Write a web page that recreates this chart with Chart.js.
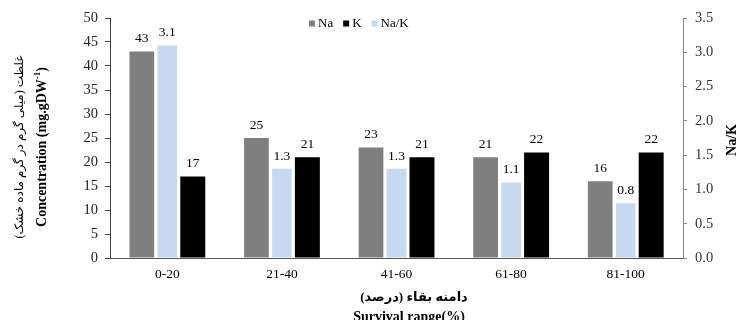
<!DOCTYPE html>
<html>
<head>
<meta charset="utf-8">
<script src="https://cdn.jsdelivr.net/npm/chart.js@4.4.1/dist/chart.umd.min.js"></script>
<style>
  html, body { margin: 0; padding: 0; background: #fff; }
  #wrap { width: 737px; height: 320px; }
</style>
</head>
<body>
<div id="wrap"><canvas id="c" width="737" height="320"></canvas></div>
<script>
// Survival range groups and measured concentrations
const categories = ['0-20', '21-40', '41-60', '61-80', '81-100'];
const naValues = [43, 25, 23, 21, 16];        // Na, mg.gDW-1
const kValues = [17, 21, 21, 22, 22];         // K, mg.gDW-1
const ratioValues = [3.1, 1.3, 1.3, 1.1, 0.8]; // Na/K ratio

// Axis ranges
const concMax = 50, concStep = 5;
const ratioMax = 3.5, ratioStep = 0.5;

// Legend order (differs from bar order inside each group)
const legendOrder = ['Na', 'K', 'Na/K'];

const SERIF = '"Liberation Serif", "Times New Roman", serif';
const PERSIAN = '"Liberation Serif", "DejaVu Sans", serif';

Chart.defaults.font.family = SERIF;
Chart.defaults.color = '#222';

const overlay = {
  id: 'overlay',
  afterDatasetsDraw(chart) {
    const ctx = chart.ctx;
    ctx.save();
    ctx.font = '13.5px ' + SERIF;
    ctx.fillStyle = '#000';
    ctx.textAlign = 'center';
    ctx.textBaseline = 'bottom';
    chart.data.datasets.forEach((ds, i) => {
      const meta = chart.getDatasetMeta(i);
      meta.data.forEach((bar, j) => {
        const v = ds.data[j];
        const txt = ds.decimals ? v.toFixed(ds.decimals) : String(v);
        ctx.fillText(txt, bar.x, bar.y - 6);
      });
    });
    ctx.restore();
  },
  afterDraw(chart) {
    const ctx = chart.ctx;
    ctx.save();

    // legend inside the top of the plot
    ctx.font = '13px ' + SERIF;
    ctx.textBaseline = 'middle';
    ctx.textAlign = 'left';
    let x = 309;
    const ly = 23.5;
    legendOrder.forEach(name => {
      const ds = chart.data.datasets.find(d => d.label === name);
      ctx.fillStyle = ds.backgroundColor;
      ctx.fillRect(x, ly - 3, 6, 6);
      x += 9;
      ctx.fillStyle = '#000';
      ctx.fillText(name, x, ly);
      x += ctx.measureText(name).width + 10;
    });

    // left axis titles (two lines, rotated)
    const yc = 147;
    ctx.save();
    ctx.translate(20, yc);
    ctx.rotate(-Math.PI / 2);
    ctx.direction = 'rtl';
    ctx.textAlign = 'center';
    ctx.textBaseline = 'middle';
    ctx.font = '12px ' + PERSIAN;
    ctx.fillStyle = '#000';
    ctx.fillText('غلظت (میلی گرم در گرم ماده خشک)', 0, 0);
    ctx.restore();

    ctx.save();
    ctx.translate(42, yc);
    ctx.rotate(-Math.PI / 2);
    ctx.fillStyle = '#000';
    ctx.textBaseline = 'middle';
    ctx.textAlign = 'left';
    const big = 'bold 14px ' + SERIF, small = 'bold 9px ' + SERIF;
    const segs = [
      { t: 'Concentration (mg.gDW', f: big, dy: 0 },
      { t: '-1', f: small, dy: -4 },
      { t: ')', f: big, dy: 0 }
    ];
    let total = 0;
    segs.forEach(s => { ctx.font = s.f; s.w = ctx.measureText(s.t).width; total += s.w; });
    let sx = -total / 2;
    segs.forEach(s => { ctx.font = s.f; ctx.fillText(s.t, sx, s.dy); sx += s.w; });
    ctx.restore();

    // right axis title
    ctx.save();
    ctx.translate(732, 140);
    ctx.rotate(-Math.PI / 2);
    ctx.font = 'bold 14px ' + SERIF;
    ctx.fillStyle = '#000';
    ctx.textAlign = 'center';
    ctx.textBaseline = 'middle';
    ctx.fillText('Na/K', 0, 0);
    ctx.restore();

    // x axis titles
    ctx.fillStyle = '#000';
    ctx.textAlign = 'center';
    ctx.save();
    ctx.direction = 'rtl';
    ctx.font = 'bold 13px ' + PERSIAN;
    ctx.textBaseline = 'middle';
    ctx.fillText('دامنه بقاء (درصد)', 414, 298);
    ctx.restore();
    ctx.font = 'bold 14px ' + SERIF;
    ctx.textBaseline = 'alphabetic';
    ctx.fillText('Survival range(%)', 409, 321);

    ctx.restore();
  }
};

new Chart(document.getElementById('c'), {
  type: 'bar',
  data: {
    labels: categories,
    datasets: [
      { label: 'Na', data: naValues, backgroundColor: '#7f7f7f', yAxisID: 'y', barPercentage: 0.97 },
      { label: 'Na/K', data: ratioValues, backgroundColor: '#c6d9f1', yAxisID: 'y1', barPercentage: 0.77, decimals: 1 },
      { label: 'K', data: kValues, backgroundColor: '#000000', yAxisID: 'y', barPercentage: 0.98 }
    ]
  },
  options: {
    responsive: false,
    animation: false,
    datasets: { bar: { categoryPercentage: 0.667 } },
    layout: { padding: { top: 18, left: 0, right: 0, bottom: 0 } },
    plugins: { legend: { display: false }, tooltip: { enabled: false } },
    scales: {
      x: {
        grid: { display: false, drawTicks: false },
        border: { display: true, color: '#595959', width: 1 },
        ticks: { font: { size: 13.5 }, color: '#000', padding: 8 },
        afterFit: s => { s.height = 62; }
      },
      y: {
        position: 'left',
        min: 0, max: concMax,
        ticks: { stepSize: concStep, font: { size: 14.5 }, color: '#222', padding: 7 },
        grid: { drawOnChartArea: false, drawTicks: true, tickLength: 5, tickColor: '#404040' },
        border: { color: '#404040', width: 1 },
        afterFit: s => { s.width = 110; }
      },
      y1: {
        position: 'right',
        min: 0, max: ratioMax,
        ticks: { stepSize: ratioStep, font: { size: 14.5 }, color: '#333', padding: 8,
                 callback: v => Number(v).toFixed(1) },
        grid: { drawOnChartArea: false, drawTicks: true, tickLength: 4, tickColor: '#8c8c8c' },
        border: { color: '#8c8c8c', width: 1 },
        afterFit: s => { s.width = 54; }
      }
    }
  },
  plugins: [overlay]
});
</script>
</body>
</html>
